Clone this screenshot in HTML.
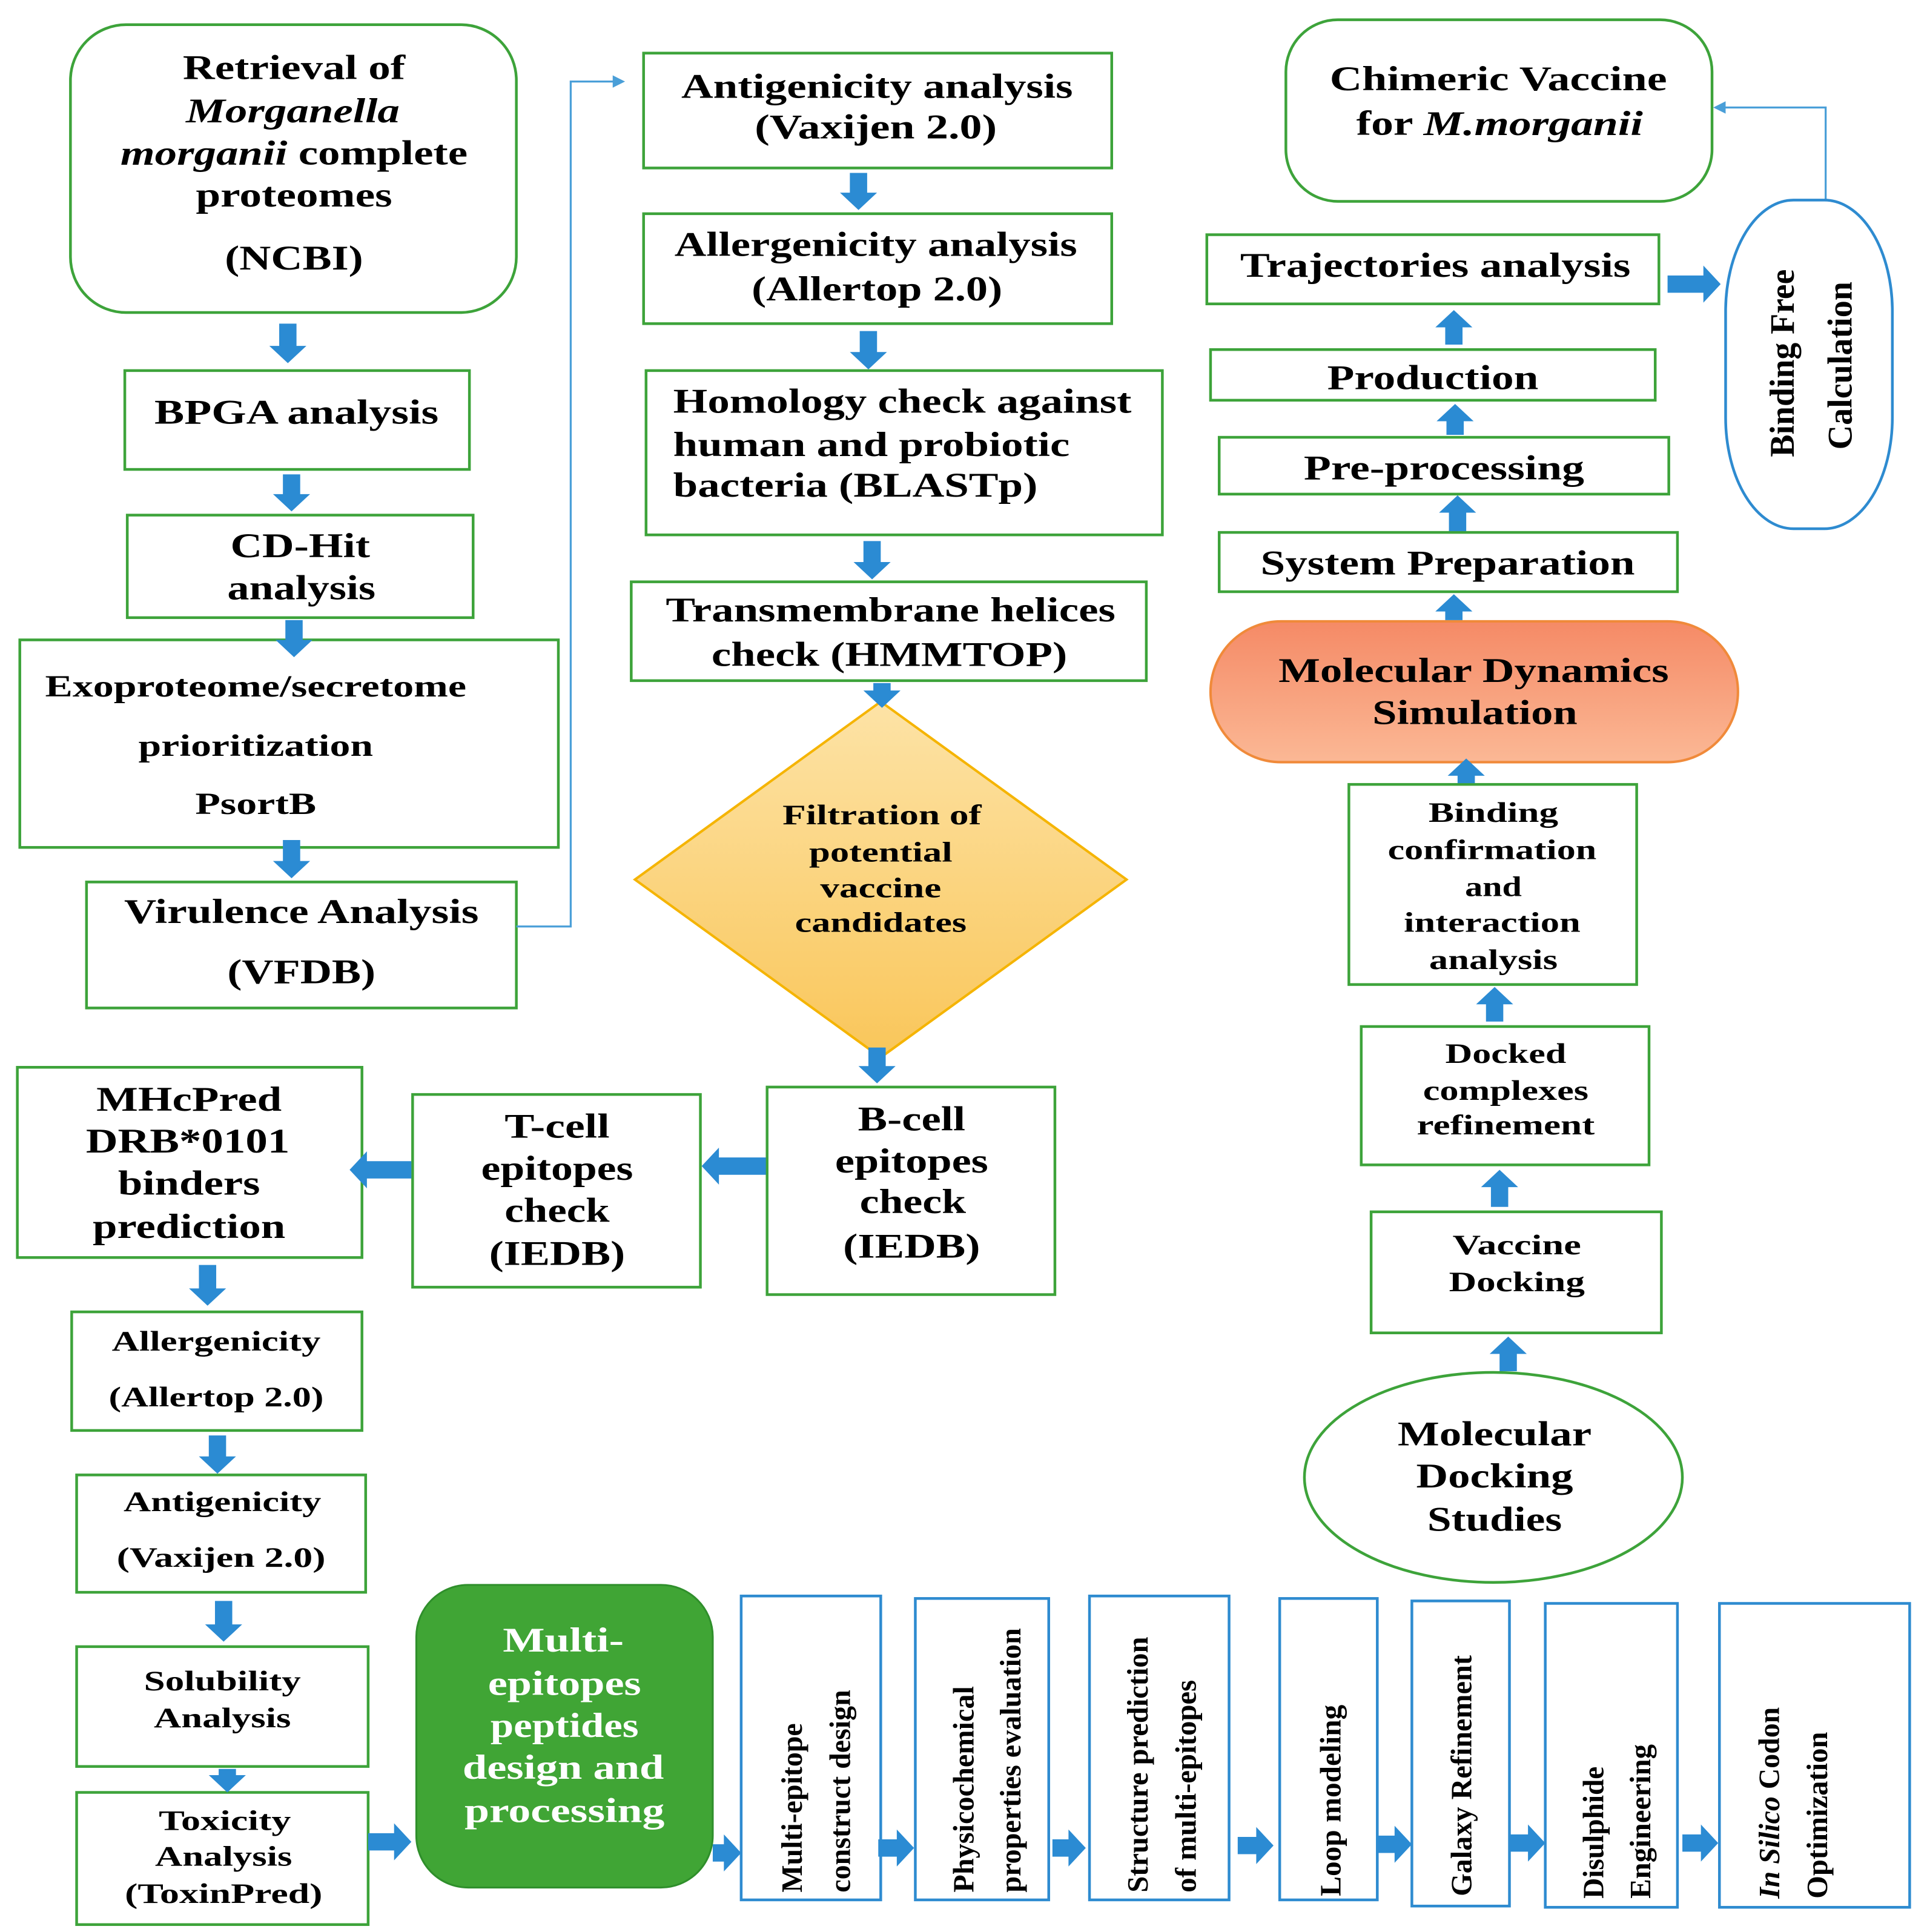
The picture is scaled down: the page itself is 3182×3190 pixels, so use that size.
<!DOCTYPE html>
<html><head><meta charset="utf-8"><style>
html,body{margin:0;padding:0;background:#fff}
svg{display:block}
text{font-family:"Liberation Serif",serif;font-weight:bold;fill:#000;dominant-baseline:central;text-anchor:middle}
.g{fill:none;stroke:#3da33a;stroke-width:2.2}
.b{fill:none;stroke:#2e8bd0;stroke-width:2.2}
.L{font-size:28px}.M{font-size:25px}.S{font-size:23px}.V{font-size:24px;text-anchor:start}
</style></head><body>
<svg id="s" width="3182" height="3190" viewBox="0 0 1560 1564" xmlns="http://www.w3.org/2000/svg">
<defs>
<linearGradient id="dg" x1="0" y1="0" x2="0" y2="1"><stop offset="0" stop-color="#fde3a6"/><stop offset="1" stop-color="#f9c65a"/></linearGradient>
<linearGradient id="mg" x1="0" y1="0" x2="0" y2="1"><stop offset="0" stop-color="#f58a66"/><stop offset="1" stop-color="#fbb895"/></linearGradient>
</defs>
<!-- left column -->
<rect class="g" x="57" y="20" width="361" height="233" rx="45"/>
<text class="L" x="238" y="55" textLength="180" lengthAdjust="spacingAndGlyphs">Retrieval of</text>
<text class="L" x="237" y="90" font-style="italic" textLength="173" lengthAdjust="spacingAndGlyphs">Morganella</text>
<text class="L" x="238" y="124" textLength="281" lengthAdjust="spacingAndGlyphs"><tspan font-style="italic">morganii</tspan> complete</text>
<text class="L" x="238" y="158" textLength="159" lengthAdjust="spacingAndGlyphs">proteomes</text>
<text class="L" x="238" y="209" textLength="112" lengthAdjust="spacingAndGlyphs">(NCBI)</text>

<rect class="g" x="101" y="300" width="279" height="80"/>
<text class="L" x="240" y="334" textLength="230" lengthAdjust="spacingAndGlyphs">BPGA analysis</text>
<rect class="g" x="103" y="417" width="280" height="83"/>
<text class="L" x="243" y="442" textLength="113" lengthAdjust="spacingAndGlyphs">CD-Hit</text>
<text class="L" x="244" y="476" textLength="120" lengthAdjust="spacingAndGlyphs">analysis</text>
<rect class="g" x="16" y="518" width="436" height="168"/>
<text class="M" x="207" y="556" textLength="341" lengthAdjust="spacingAndGlyphs">Exoproteome/secretome</text>
<text class="M" x="207" y="604" textLength="190" lengthAdjust="spacingAndGlyphs">prioritization</text>
<text class="M" x="207" y="651" textLength="98" lengthAdjust="spacingAndGlyphs">PsortB</text>
<rect class="g" x="70" y="714" width="348" height="102"/>
<text class="L" x="244" y="738" textLength="287" lengthAdjust="spacingAndGlyphs">Virulence Analysis</text>
<text class="L" x="244" y="787" textLength="120" lengthAdjust="spacingAndGlyphs">(VFDB)</text>
<polyline points="418,750 462,750 462,66 498,66" fill="none" stroke="#4a9fd8" stroke-width="1.6"/>
<polygon points="506,66 496,61 496,71" fill="#4a9fd8"/>

<!-- middle column -->
<rect class="g" x="521" y="43" width="379" height="93"/>
<text class="L" x="710" y="70" textLength="317" lengthAdjust="spacingAndGlyphs">Antigenicity analysis</text>
<text class="L" x="709" y="103" textLength="196" lengthAdjust="spacingAndGlyphs">(Vaxijen 2.0)</text>
<rect class="g" x="521" y="173" width="379" height="89"/>
<text class="L" x="709" y="198" textLength="326" lengthAdjust="spacingAndGlyphs">Allergenicity analysis</text>
<text class="L" x="710" y="234" textLength="203" lengthAdjust="spacingAndGlyphs">(Allertop 2.0)</text>
<rect class="g" x="523" y="300" width="418" height="133"/>
<text class="L" x="545" y="325" style="text-anchor:start" textLength="371" lengthAdjust="spacingAndGlyphs">Homology check against</text>
<text class="L" x="545" y="360" style="text-anchor:start" textLength="321" lengthAdjust="spacingAndGlyphs">human and probiotic</text>
<text class="L" x="545" y="393" style="text-anchor:start" textLength="295" lengthAdjust="spacingAndGlyphs">bacteria (BLASTp)</text>
<rect class="g" x="511" y="471" width="417" height="80"/>
<text class="L" x="721" y="494" textLength="364" lengthAdjust="spacingAndGlyphs">Transmembrane helices</text>
<text class="L" x="720" y="530" textLength="288" lengthAdjust="spacingAndGlyphs">check (HMMTOP)</text>
<polygon points="713,568 912,712 713,856 514,712" fill="url(#dg)" stroke="#f5b400" stroke-width="2"/>
<text class="S" x="714" y="660" textLength="161" lengthAdjust="spacingAndGlyphs">Filtration of</text>
<text class="S" x="713" y="690" textLength="116" lengthAdjust="spacingAndGlyphs">potential</text>
<text class="S" x="713" y="719" textLength="98" lengthAdjust="spacingAndGlyphs">vaccine</text>
<text class="S" x="713" y="747" textLength="139" lengthAdjust="spacingAndGlyphs">candidates</text>

<rect class="g" x="621" y="880" width="233" height="168"/>
<text class="L" x="738" y="906" textLength="87" lengthAdjust="spacingAndGlyphs">B-cell</text>
<text class="L" x="738" y="940" textLength="124" lengthAdjust="spacingAndGlyphs">epitopes</text>
<text class="L" x="739" y="973" textLength="86" lengthAdjust="spacingAndGlyphs">check</text>
<text class="L" x="738" y="1009" textLength="111" lengthAdjust="spacingAndGlyphs">(IEDB)</text>
<rect class="g" x="334" y="886" width="233" height="156"/>
<text class="L" x="451" y="912" textLength="85" lengthAdjust="spacingAndGlyphs">T-cell</text>
<text class="L" x="451" y="946" textLength="123" lengthAdjust="spacingAndGlyphs">epitopes</text>
<text class="L" x="451" y="980" textLength="85" lengthAdjust="spacingAndGlyphs">check</text>
<text class="L" x="451" y="1015" textLength="110" lengthAdjust="spacingAndGlyphs">(IEDB)</text>
<rect class="g" x="14" y="864" width="279" height="154"/>
<text class="L" x="153" y="890" textLength="150" lengthAdjust="spacingAndGlyphs">MHcPred</text>
<text class="L" x="152" y="924" textLength="165" lengthAdjust="spacingAndGlyphs">DRB*0101</text>
<text class="L" x="153" y="958" textLength="115" lengthAdjust="spacingAndGlyphs">binders</text>
<text class="L" x="153" y="993" textLength="156" lengthAdjust="spacingAndGlyphs">prediction</text>
<rect class="g" x="58" y="1062" width="235" height="96"/>
<text class="S" x="175" y="1086" textLength="169" lengthAdjust="spacingAndGlyphs">Allergenicity</text>
<text class="S" x="175" y="1131" textLength="174" lengthAdjust="spacingAndGlyphs">(Allertop 2.0)</text>
<rect class="g" x="62" y="1194" width="234" height="95"/>
<text class="S" x="180" y="1216" textLength="160" lengthAdjust="spacingAndGlyphs">Antigenicity</text>
<text class="S" x="179" y="1261" textLength="169" lengthAdjust="spacingAndGlyphs">(Vaxijen 2.0)</text>
<rect class="g" x="62" y="1333" width="236" height="97"/>
<text class="S" x="180" y="1361" textLength="127" lengthAdjust="spacingAndGlyphs">Solubility</text>
<text class="S" x="180" y="1391" textLength="111" lengthAdjust="spacingAndGlyphs">Analysis</text>
<rect class="g" x="62" y="1451" width="236" height="107"/>
<text class="S" x="182" y="1474" textLength="107" lengthAdjust="spacingAndGlyphs">Toxicity</text>
<text class="S" x="181" y="1503" textLength="111" lengthAdjust="spacingAndGlyphs">Analysis</text>
<text class="S" x="181" y="1533" textLength="160" lengthAdjust="spacingAndGlyphs">(ToxinPred)</text>

<rect x="337" y="1283" width="240" height="245" rx="42" fill="#40a535" stroke="#2f8f2b" stroke-width="1.5"/>
<text class="L" x="456" y="1328" style="fill:#fff" textLength="98" lengthAdjust="spacingAndGlyphs">Multi-</text>
<text class="L" x="457" y="1363" style="fill:#fff" textLength="124" lengthAdjust="spacingAndGlyphs">epitopes</text>
<text class="L" x="457" y="1397" style="fill:#fff" textLength="120" lengthAdjust="spacingAndGlyphs">peptides</text>
<text class="L" x="456" y="1431" style="fill:#fff" textLength="163" lengthAdjust="spacingAndGlyphs">design and</text>
<text class="L" x="457" y="1466" style="fill:#fff" textLength="162" lengthAdjust="spacingAndGlyphs">processing</text>

<!-- vertical boxes -->
<rect class="b" x="600" y="1292" width="113" height="246"/>
<text class="V" transform="translate(641,1532) rotate(-90)" textLength="137" lengthAdjust="spacingAndGlyphs">Multi-epitope</text>
<text class="V" transform="translate(680,1532) rotate(-90)" textLength="164" lengthAdjust="spacingAndGlyphs">construct design</text>
<rect class="b" x="741" y="1294" width="108" height="244"/>
<text class="V" transform="translate(780,1532) rotate(-90)" textLength="167" lengthAdjust="spacingAndGlyphs">Physicochemical</text>
<text class="V" transform="translate(818,1532) rotate(-90)" textLength="214" lengthAdjust="spacingAndGlyphs">properties evaluation</text>
<rect class="b" x="882" y="1292" width="113" height="246"/>
<text class="V" transform="translate(921,1532) rotate(-90)" textLength="207" lengthAdjust="spacingAndGlyphs">Structure prediction</text>
<text class="V" transform="translate(960,1532) rotate(-90)" textLength="172" lengthAdjust="spacingAndGlyphs">of multi-epitopes</text>
<rect class="b" x="1036" y="1294" width="79" height="244"/>
<text class="V" transform="translate(1077,1535) rotate(-90)" textLength="155" lengthAdjust="spacingAndGlyphs">Loop modeling</text>
<rect class="b" x="1143" y="1296" width="79" height="247"/>
<text class="V" transform="translate(1183,1535) rotate(-90)" textLength="195" lengthAdjust="spacingAndGlyphs">Galaxy Refinement</text>
<rect class="b" x="1251" y="1298" width="107" height="246"/>
<text class="V" transform="translate(1290,1537) rotate(-90)" textLength="107" lengthAdjust="spacingAndGlyphs">Disulphide</text>
<text class="V" transform="translate(1328,1537) rotate(-90)" textLength="125" lengthAdjust="spacingAndGlyphs">Engineering</text>
<rect class="b" x="1392" y="1298" width="154" height="246"/>
<text class="V" transform="translate(1432,1537) rotate(-90)" textLength="155" lengthAdjust="spacingAndGlyphs"><tspan font-style="italic">In Silico</tspan> Codon</text>
<text class="V" transform="translate(1471,1537) rotate(-90)" textLength="135" lengthAdjust="spacingAndGlyphs">Optimization</text>

<!-- right column -->
<rect class="g" x="1041" y="16" width="345" height="147" rx="42"/>
<text class="L" x="1213" y="64" textLength="273" lengthAdjust="spacingAndGlyphs">Chimeric Vaccine</text>
<text class="L" x="1214" y="100" textLength="232" lengthAdjust="spacingAndGlyphs">for <tspan font-style="italic">M.morganii</tspan></text>
<polyline points="1478,162 1478,87 1396,87" fill="none" stroke="#4a9fd8" stroke-width="1.6"/>
<polygon points="1387,87 1397,82 1397,92" fill="#4a9fd8"/>
<rect class="g" x="977" y="190" width="366" height="56"/>
<text class="L" x="1162" y="215" textLength="316" lengthAdjust="spacingAndGlyphs">Trajectories analysis</text>
<rect class="b" x="1397" y="162" width="135" height="266" rx="55" ry="90"/>
<text class="L" transform="translate(1443,294) rotate(-90)" textLength="152" lengthAdjust="spacingAndGlyphs">Binding Free</text>
<text class="L" transform="translate(1490,296) rotate(-90)" textLength="136" lengthAdjust="spacingAndGlyphs">Calculation</text>
<rect class="g" x="980" y="283" width="360" height="41"/>
<text class="L" x="1160" y="306" textLength="171" lengthAdjust="spacingAndGlyphs">Production</text>
<rect class="g" x="987" y="354" width="364" height="46"/>
<text class="L" x="1169" y="379" textLength="227" lengthAdjust="spacingAndGlyphs">Pre-processing</text>
<rect class="g" x="987" y="431" width="371" height="48"/>
<text class="L" x="1172" y="456" textLength="303" lengthAdjust="spacingAndGlyphs">System Preparation</text>
<rect x="980" y="503" width="427" height="114" rx="57" fill="url(#mg)" stroke="#f08a3a" stroke-width="2"/>
<text class="L" x="1193" y="543" textLength="316" lengthAdjust="spacingAndGlyphs">Molecular Dynamics</text>
<text class="L" x="1194" y="577" textLength="166" lengthAdjust="spacingAndGlyphs">Simulation</text>
<rect class="g" x="1092" y="635" width="233" height="162"/>
<text class="S" x="1209" y="658" textLength="105" lengthAdjust="spacingAndGlyphs">Binding</text>
<text class="S" x="1208" y="688" textLength="169" lengthAdjust="spacingAndGlyphs">confirmation</text>
<text class="S" x="1209" y="718" textLength="46" lengthAdjust="spacingAndGlyphs">and</text>
<text class="S" x="1208" y="747" textLength="143" lengthAdjust="spacingAndGlyphs">interaction</text>
<text class="S" x="1209" y="777" textLength="104" lengthAdjust="spacingAndGlyphs">analysis</text>
<rect class="g" x="1102" y="831" width="233" height="112"/>
<text class="S" x="1219" y="853" textLength="98" lengthAdjust="spacingAndGlyphs">Docked</text>
<text class="S" x="1219" y="883" textLength="134" lengthAdjust="spacingAndGlyphs">complexes</text>
<text class="S" x="1219" y="911" textLength="144" lengthAdjust="spacingAndGlyphs">refinement</text>
<rect class="g" x="1110" y="981" width="235" height="98"/>
<text class="S" x="1228" y="1008" textLength="104" lengthAdjust="spacingAndGlyphs">Vaccine</text>
<text class="S" x="1228" y="1038" textLength="110" lengthAdjust="spacingAndGlyphs">Docking</text>
<ellipse class="g" cx="1209" cy="1196" rx="153" ry="85"/>
<text class="L" x="1210" y="1161" textLength="157" lengthAdjust="spacingAndGlyphs">Molecular</text>
<text class="L" x="1210" y="1195" textLength="127" lengthAdjust="spacingAndGlyphs">Docking</text>
<text class="L" x="1210" y="1230" textLength="109" lengthAdjust="spacingAndGlyphs">Studies</text>
<g id="arr" fill="#2b8bd3"></g>
</svg>
<script>
(function(){
var g=document.getElementById('arr');
function P(pts){var p=document.createElementNS('http://www.w3.org/2000/svg','polygon');p.setAttribute('points',pts.map(function(a){return a.join(',')}).join(' '));g.appendChild(p);}
var s=7,h=15,hl=14;
function down(x,y1,y2){P([[x-s,y1],[x+s,y1],[x+s,y2-hl],[x+h,y2-hl],[x,y2],[x-h,y2-hl],[x-s,y2-hl]]);}
function up(x,y1,y2){P([[x-s,y1],[x+s,y1],[x+s,y2+hl],[x+h,y2+hl],[x,y2],[x-h,y2+hl],[x-s,y2+hl]]);}
function right(y,x1,x2){P([[x1,y-s],[x1,y+s],[x2-hl,y+s],[x2-hl,y+h],[x2,y],[x2-hl,y-h],[x2-hl,y-s]]);}
function left(y,x1,x2){P([[x1,y-s],[x1,y+s],[x2+hl,y+s],[x2+hl,y+h],[x2,y],[x2+hl,y-h],[x2+hl,y-s]]);}
down(233,262,294);down(236,384,414);down(238,502,532);down(236,680,711);
down(695,140,170);down(703,268,299);down(706,438,469);down(714,553,573);down(710,848,877);
left(944,620,568);left(947,333,283);
down(168,1024,1057);down(176,1162,1193);down(181,1296,1329);down(184,1432,1451);
right(1491,298,333);right(1500,577,600);right(1496,711,740);right(1496,852,879);right(1494,1002,1031);
right(1493,1115,1143);right(1492,1222,1251);right(1492,1362,1391);
right(230,1350,1393);
up(1177,279,251);up(1178,352,327);up(1180,430,401);up(1177,502,481);up(1187,634,614);
up(1210,827,799);up(1214,977,947);up(1221,1110,1082);
})();
</script>
</body></html>
